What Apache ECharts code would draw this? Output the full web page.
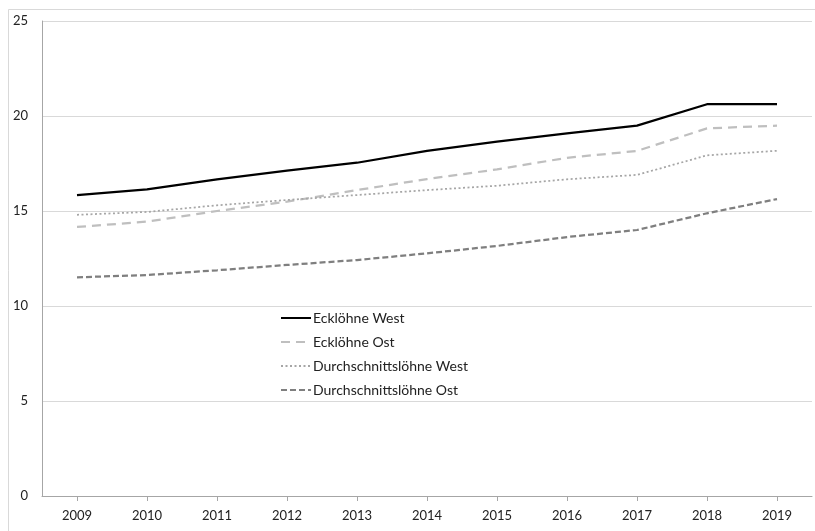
<!DOCTYPE html>
<html>
<head>
<meta charset="utf-8">
<script src="https://cdn.jsdelivr.net/npm/echarts@6/dist/echarts.min.js"></script>
<style>
html,body{margin:0;padding:0;background:#fff;}
#chart{width:815px;height:531px;}
</style>
</head>
<body>
<div id="chart"></div>
<script>
const years = ['2009','2010','2011','2012','2013','2014','2015','2016','2017','2018','2019'];
const ecklohneWest = [15.83, 16.14, 16.67, 17.12, 17.54, 18.17, 18.65, 19.09, 19.49, 20.62, 20.62];
const ecklohneOst = [14.16, 14.44, 15.0, 15.49, 16.1, 16.68, 17.19, 17.8, 18.16, 19.35, 19.49];
const durchWest = [14.8, 14.95, 15.3, 15.58, 15.84, 16.1, 16.33, 16.67, 16.9, 17.93, 18.17];
const durchOst = [11.51, 11.63, 11.88, 12.16, 12.42, 12.77, 13.16, 13.63, 14.0, 14.88, 15.63];
const seriesNames = ['Ecklöhne West', 'Ecklöhne Ost', 'Durchschnittslöhne West', 'Durchschnittslöhne Ost'];

const FONT = 'Lato';
const chart = echarts.init(document.getElementById('chart'), null, {renderer: 'canvas'});
function line(name, data, color, width, type) {
  return {
    name: name, type: 'line', data: data, symbol: 'none', showSymbol: false,
    lineStyle: {color: color, width: width, type: type, cap: 'butt'},
    itemStyle: {color: color}, animation: false
  };
}
chart.setOption({
  backgroundColor: '#fff',
  animation: false,
  textStyle: {fontFamily: FONT},
  graphic: [{
    type: 'rect', silent: true, z: -10,
    shape: {x: 8.5, y: 9.5, width: 830, height: 560},
    style: {fill: 'none', stroke: '#d9d9d9', lineWidth: 1}
  }],
  grid: {left: 42, right: 3, top: 21, bottom: 35, containLabel: false},
  legend: {
    orient: 'vertical', left: 280, top: 311, padding: 0, itemGap: 10,
    itemWidth: 30, itemHeight: 14,
    itemStyle: {opacity: 0},
    textStyle: {fontFamily: FONT, fontSize: 14, color: '#222', padding: [0, 0, 0, -3]},
    data: seriesNames
  },
  xAxis: {
    type: 'category', data: years, boundaryGap: true,
    axisLine: {lineStyle: {color: '#a6a6a6', width: 1}},
    axisTick: {show: true, alignWithLabel: true, length: 5, lineStyle: {color: '#a6a6a6'}},
    axisLabel: {color: '#222', fontSize: 13, fontFamily: FONT, margin: 13},
    splitLine: {show: false}
  },
  yAxis: {
    type: 'value', min: 0, max: 25, interval: 5,
    axisLine: {show: true, lineStyle: {color: '#a6a6a6', width: 1}},
    axisTick: {show: false},
    axisLabel: {color: '#222', fontSize: 13, fontFamily: FONT, margin: 14},
    splitLine: {show: true, lineStyle: {color: '#d9d9d9', width: 1}}
  },
  series: [
    line(seriesNames[0], ecklohneWest, '#000000', 2.25, 'solid'),
    line(seriesNames[1], ecklohneOst, '#bfbfbf', 2.25, [9, 6]),
    line(seriesNames[2], durchWest, '#a6a6a6', 1.75, [2, 2.5]),
    line(seriesNames[3], durchOst, '#7f7f7f', 2.25, [6, 3])
  ]
});
</script>
</body>
</html>
